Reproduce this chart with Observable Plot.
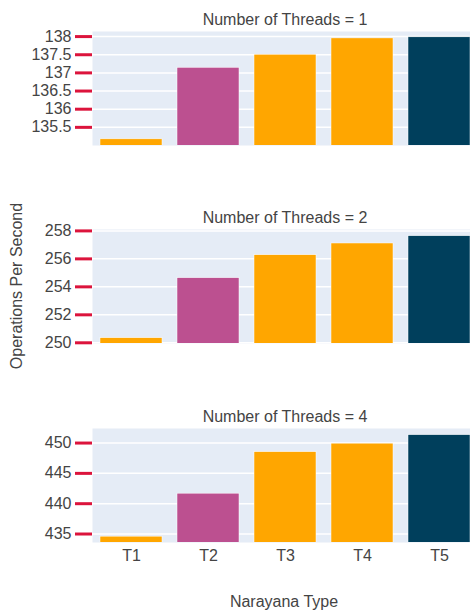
<!DOCTYPE html>
<html>
<head>
<meta charset="utf-8">
<script src="https://cdn.jsdelivr.net/npm/d3@7"></script>
<script src="https://cdn.jsdelivr.net/npm/@observablehq/plot@0.6"></script>
<style>
  html, body { margin: 0; padding: 0; background: #fff; overflow: hidden; }
  body { width: 470px; height: 613px; position: relative; font-family: "Liberation Sans", Arial, sans-serif; color: #444; }
  .panel { position: absolute; left: 0; max-width: none !important; height: auto; }
  .ytitle { position: absolute; left: 17px; top: 286px; transform: translate(-50%, -50%) rotate(-90deg); font-size: 16px; white-space: nowrap; }
  .xtitle { position: absolute; left: 284px; top: 602px; transform: translate(-50%, -50%); font-size: 16px; white-space: nowrap; }
</style>
</head>
<body>
<div class="ytitle">Operations Per Second</div>
<div class="xtitle">Narayana Type</div>
<script>
const types = ["T1", "T2", "T3", "T4", "T5"];
const colors = ["#ffa600", "#bc5090", "#ffa600", "#ffa600", "#003f5c"];
const threads = [1, 2, 4];
const values1 = [135.17, 137.14, 137.5, 137.95, 137.98];
const values2 = [250.33, 254.62, 256.26, 257.1, 257.62];
const values4 = [434.56, 441.65, 448.5, 449.9, 451.3];
const yDomains = [[135.0, 138.14], [249.95, 258.1], [433.6, 452.4]];
const yTicks = [
  [135.5, 136, 136.5, 137, 137.5, 138],
  [250, 252, 254, 256, 258],
  [435, 440, 445, 450]
];

const series = [values1, values2, values4];
const tops = [0, 198, 397];

series.forEach((vals, i) => {
  const data = types.map((t, j) => ({type: t, value: vals[j], color: colors[j]}));
  const last = i === series.length - 1;
  const marks = [
    Plot.frame({fill: "#e5ecf6", stroke: null}),
    Plot.gridY(yTicks[i], {stroke: "#fff", strokeOpacity: 1, strokeWidth: 1.5}),
    Plot.barY(data, {x: "type", y: "value", fill: "color", stroke: "#fff", strokeWidth: 0.5, clip: true}),
    Plot.axisY(yTicks[i], {tickSize: 17, tickPadding: 4, stroke: "#dc143c", strokeWidth: 3, fill: "#444", fontSize: 16, label: null, tickFormat: d => String(d)}),
    Plot.text([`Number of Threads = ${threads[i]}`], {frameAnchor: "top", lineAnchor: "middle", dy: -12, fontSize: 16, fill: "#444"})
  ];
  if (last) {
    marks.push(Plot.axisX({tickSize: 0, tickPadding: 7, fontSize: 16, fill: "#444", label: null}));
  } else {
    marks.push(Plot.axisX({ticks: [], label: null}));
  }
  const chart = Plot.plot({
    width: 477,
    height: 31 + 114 + (last ? 30 : 2),
    marginTop: 31,
    marginBottom: last ? 30 : 2,
    marginLeft: 92,
    marginRight: 0,
    style: {fontFamily: "'Liberation Sans', Arial, sans-serif", fontSize: "16px", background: "transparent", overflow: "visible", maxWidth: "none"},
    x: {domain: types, paddingInner: 0.2, paddingOuter: 0.1},
    y: {domain: yDomains[i]},
    color: {type: "identity"},
    marks
  });
  chart.classList.add("panel");
  chart.style.maxWidth = "none";
  chart.style.top = tops[i] + "px";
  document.body.appendChild(chart);
});
</script>
</body>
</html>
